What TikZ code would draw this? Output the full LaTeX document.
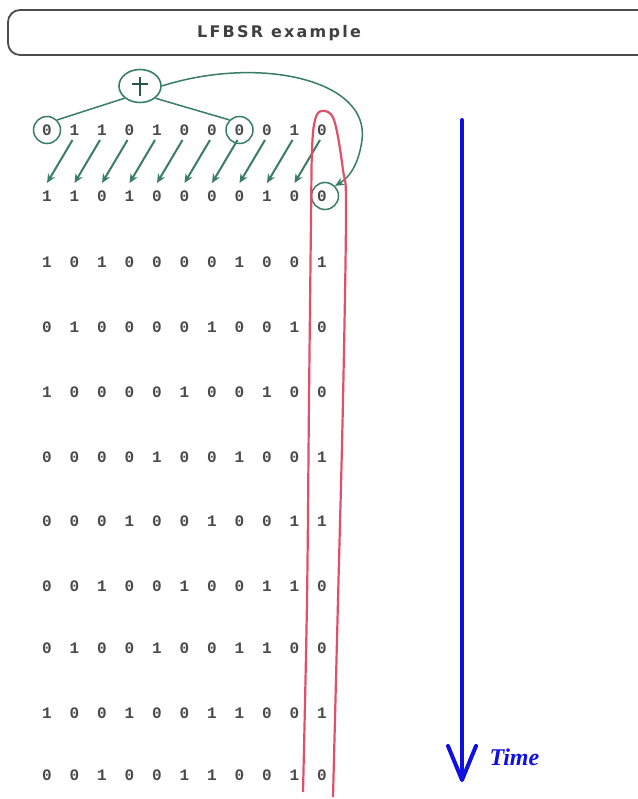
\documentclass[tikz,border=0pt]{standalone}
\usepackage{fontspec}
\usetikzlibrary{arrows.meta,shapes.geometric}
\newfontfamily\titlefont[LetterSpace=14]{DejaVu Sans}
\newfontfamily\digitfont{Liberation Mono}
\definecolor{grn}{HTML}{3A7D66}
\definecolor{redl}{HTML}{E0506A}
\definecolor{dgray}{HTML}{4A4A4A}
\definecolor{tblue}{HTML}{1010E0}
\tikzset{
  bit/.style={font=\digitfont\bfseries\fontsize{16}{16}\selectfont, text=dgray, inner sep=1pt},
  gline/.style={draw=grn, line width=1.5pt},
  garrow/.style={draw=grn, line width=2pt, -{Stealth[length=9pt,width=8pt]}},
  gcirc/.style={draw=grn, line width=1.5pt, circle, minimum size=27pt, inner sep=0pt},
}
\begin{document}
\begin{tikzpicture}[x=1pt,y=-1pt]
\useasboundingbox (0,0) rectangle (637,799);
\fill[white] (0,0) rectangle (637,799);
% title box
\draw[draw=black!70, line width=1.8pt, rounded corners=12pt] (660,10) -- (8,10) -- (8,55) -- (660,55);
\node[font=\titlefont\bfseries\fontsize{16}{16}\selectfont, text=black!75] (title) at (279,33) {LFBSR example};
% digits
\foreach \rowbits/\yy [count=\r] in {
 {0,1,1,0,1,0,0,0,0,1,0}/130,
 {1,1,0,1,0,0,0,0,1,0,0}/196,
 {1,0,1,0,0,0,0,1,0,0,1}/262,
 {0,1,0,0,0,0,1,0,0,1,0}/327,
 {1,0,0,0,0,1,0,0,1,0,0}/392,
 {0,0,0,0,1,0,0,1,0,0,1}/457,
 {0,0,0,1,0,0,1,0,0,1,1}/521,
 {0,0,1,0,0,1,0,0,1,1,0}/586,
 {0,1,0,0,1,0,0,1,1,0,0}/648,
 {1,0,0,1,0,0,1,1,0,0,1}/713,
 {0,0,1,0,0,1,1,0,0,1,0}/775} {
  \foreach \b [count=\c] in \rowbits {
    \node[bit] (d\r-\c) at ({47+27.5*(\c-1)},\yy) {\b};
  }
}
% circles
\node[gcirc] (c1) at (d1-1) {};
\node[gcirc] (c8) at (d1-8) {};
\node[gcirc] (cout) at ([xshift=3pt]d2-11) {};
\node[draw=grn, line width=1.6pt, ellipse, minimum width=42pt, minimum height=33pt, inner sep=0pt] (xor) at (140,86) {};
\draw[grn!70!black, line width=2.6pt] (140,77) -- (140,96) (132,84) -- (148,84);
% lines to xor
\draw[gline] (c1.north east) -- (xor.south west);
\draw[gline] (c8.north west) -- (xor.south east);
% feedback curve
\draw[garrow, line width=1.5pt] (xor.east) .. controls (260,55) and (370,80) .. (362,140) .. controls (358,170) and (345,180) .. (cout.north east);
% shift arrows
\foreach \c [evaluate=\c as \n using int(\c+1)] in {1,...,10} {
  \draw[garrow] ([xshift=-2pt,yshift=-10pt]d1-\n.center) -- ([xshift=0pt,yshift=13pt]d2-\c.center);
}
% red loop
\draw[redl, line width=2.2pt, line join=round] plot[smooth, tension=0.6] coordinates {(303,792) (307,600) (309,400) (311,220) (312,150) (315,120) (322,111) (334,120) (343,170) (346,210) (343,400) (338,600) (333,797)};
% time arrow
\draw[tblue, line width=4pt, line cap=round] (462,120) -- (462,778);
\draw[tblue, line width=4pt, line cap=round, line join=round] (448,746) -- (462,780) -- (476,746);
\node[text=tblue, font=\fontspec{Liberation Serif}\bfseries\itshape\fontsize{24}{24}\selectfont, anchor=west] (time) at (486,757) {Time};
\end{tikzpicture}
\end{document}
